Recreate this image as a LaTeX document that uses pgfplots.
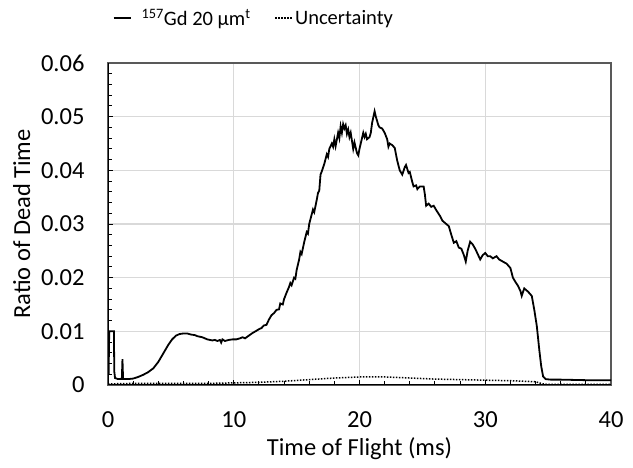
\documentclass[border=0pt]{standalone}
\usepackage{pgfplots}
\pgfplotsset{compat=1.18}
\usepackage{fontspec}
\setmainfont{Carlito}

\definecolor{gridgray}{RGB}{217,217,217}
\definecolor{boxgray}{RGB}{89,89,89}

\begin{document}
\begin{tikzpicture}
\begin{axis}[
    at={(108bp,83bp)}, anchor=south west,
    scale only axis,
    width=503bp, height=322bp,
    xmin=0, xmax=40, ymin=0, ymax=0.06,
    scaled y ticks=false, scaled x ticks=false,
    xtick={0,10,20,30,40},
    ytick={0,0.01,0.02,0.03,0.04,0.05,0.06},
    yticklabels={0,0.01,0.02,0.03,0.04,0.05,0.06},
    xticklabels={0,10,20,30,40},
    minor x tick num=4, minor y tick num=4,
    tick pos=left, tick align=inside,
    major tick length=5bp, minor tick length=4bp,
    every tick/.style={black, line width=1bp},
    grid=major,
    major grid style={gridgray, line width=1.2bp},
    axis line style={boxgray, line width=1.2bp},
    tick label style={font=\fontsize{24.5bp}{29bp}\selectfont},
    yticklabel style={xshift=-20bp},
    xticklabel style={yshift=-23bp},
    label style={font=\fontsize{24.5bp}{29bp}\selectfont},
    xlabel={Time of Flight (ms)},
    ylabel={Ratio of Dead Time},
    xlabel style={yshift=-3bp},
    ylabel style={yshift=4bp},
    legend columns=2,
    legend style={draw=none, fill=none, at={(0.29,1.14)}, anchor=center,
        font=\fontsize{20.5bp}{24bp}\selectfont,
        /tikz/column 1/.style={column sep=8bp},
        /tikz/column 2/.style={column sep=22bp},
        /tikz/column 3/.style={column sep=0bp}},
]
\addplot[black, line width=1.8bp] coordinates {
(0,0.0045) (0.05,0.0020) (0.08,0.0075) (0.10,0.0100) (0.47,0.0100) (0.50,0.0025)
(0.56,0.0013) (0.8,0.0011) (1.10,0.0011) (1.15,0.0048) (1.20,0.0011) (1.6,0.0011)
(2.0,0.0012) (2.4,0.0015) (2.8,0.0019) (3.2,0.0024) (3.6,0.0031) (4.0,0.0043)
(4.4,0.0059) (4.8,0.0075) (5.1,0.0085) (5.4,0.0092) (5.7,0.0095) (6.0,0.0096)
(6.3,0.0096) (6.6,0.0094) (6.9,0.0093) (7.1,0.0091) (7.3,0.0090) (7.5,0.0089)
(7.7,0.0087) (7.9,0.0085) (8.1,0.0084) (8.3,0.0083) (8.5,0.0084) (8.7,0.0082)
(8.9,0.0084) (9.0,0.0079) (9.1,0.0085) (9.3,0.0082) (9.6,0.0084) (9.9,0.0085)
(10.2,0.0085) (10.5,0.0087) (10.7,0.0089) (10.9,0.0087) (11.2,0.0092) (11.5,0.0097)
(11.8,0.0101) (12.0,0.0104) (12.2,0.0106) (12.4,0.0111) (12.6,0.0112) (12.8,0.0122)
(13.0,0.0130) (13.2,0.0134) (13.4,0.0140) (13.6,0.0141) (13.7,0.0152) (13.9,0.0150)
(14.0,0.0160) (14.2,0.0172) (14.4,0.0183) (14.5,0.0190) (14.6,0.0186) (14.8,0.0200)
(14.9,0.0198) (15.0,0.0214) (15.2,0.0234) (15.3,0.0248) (15.4,0.0244) (15.6,0.0266)
(15.8,0.0285) (15.9,0.0282) (16.0,0.0300) (16.2,0.0318) (16.3,0.0327) (16.4,0.0322)
(16.6,0.0345) (16.7,0.0358) (16.8,0.0362) (16.9,0.0392) (17.0,0.0398) (17.2,0.0412)
(17.4,0.0430) (17.5,0.0425) (17.6,0.0440) (17.8,0.0450) (17.9,0.0444) (18.0,0.0458)
(18.1,0.0445) (18.3,0.0470) (18.4,0.0460) (18.5,0.0482) (18.6,0.0470) (18.7,0.0486)
(18.8,0.0478) (18.9,0.0484) (19.0,0.0468) (19.1,0.0476) (19.2,0.0462) (19.3,0.0470)
(19.5,0.0440) (19.6,0.0452) (19.8,0.0432) (19.9,0.0428) (20.0,0.0440) (20.2,0.0460)
(20.3,0.0470) (20.4,0.0462) (20.5,0.0468) (20.6,0.0458) (20.8,0.0462) (20.9,0.0470)
(21.0,0.0488) (21.2,0.0510) (21.3,0.0500) (21.5,0.0484) (21.6,0.0480) (21.8,0.0478)
(22.0,0.0470) (22.2,0.0458) (22.3,0.0444) (22.4,0.0450) (22.6,0.0447) (22.8,0.0442)
(23.0,0.0418) (23.2,0.0400) (23.4,0.0392) (23.6,0.0406) (23.7,0.0410) (23.9,0.0395)
(24.0,0.0397) (24.2,0.0378) (24.3,0.0370) (24.5,0.0372) (24.6,0.0365) (24.8,0.0370)
(25.1,0.0370) (25.2,0.0355) (25.3,0.0334) (25.5,0.0338) (25.7,0.0332) (25.9,0.0334)
(26.1,0.0326) (26.4,0.0315) (26.6,0.0306) (26.8,0.0302) (27.1,0.0296) (27.3,0.0280)
(27.5,0.0265) (27.7,0.0268) (27.9,0.0256) (28.1,0.0254) (28.3,0.0242) (28.45,0.0230)
(28.6,0.0250) (28.8,0.0267) (29.0,0.0262) (29.2,0.0254) (29.4,0.0244) (29.6,0.0234)
(29.8,0.0242) (30.0,0.0246) (30.2,0.0240) (30.4,0.0240) (30.6,0.0236) (30.9,0.0240)
(31.1,0.0234) (31.4,0.0230) (31.7,0.0226) (32.0,0.0218) (32.2,0.0200) (32.4,0.0192)
(32.6,0.0185) (32.8,0.0175) (32.9,0.0166) (33.1,0.0180) (33.4,0.0174) (33.7,0.0166)
(33.9,0.0140) (34.1,0.0110) (34.3,0.0065) (34.45,0.0035) (34.6,0.0016) (34.8,0.0011)
(35.2,0.0010) (36,0.0010) (38,0.0009) (40,0.0009)
};
\addlegendentry{\textsuperscript{157}Gd 20 µm\textsuperscript{t}}
\addplot[black, line width=1.5bp, dash pattern=on 1.5bp off 1.5bp] coordinates {
(0,0.0002) (2,0.0003) (5,0.0003) (8,0.0003) (10,0.0004) (12,0.0005) (14,0.0007)
(16,0.0010) (18,0.0013) (20,0.0015) (22,0.0015) (24,0.0013) (26,0.0011) (28,0.0010)
(30,0.0009) (32,0.0008) (34,0.0006) (34.6,0.0002) (35,0.0001) (40,0.0001)
};
\addlegendentry{Uncertainty}
\draw[black, line width=2bp] (rel axis cs:0,1) -- (rel axis cs:0,0) -- (rel axis cs:1,0);
\end{axis}
\pgfresetboundingbox
\path[use as bounding box] (0,0) rectangle (633bp,468bp);
\end{tikzpicture}
\end{document}
